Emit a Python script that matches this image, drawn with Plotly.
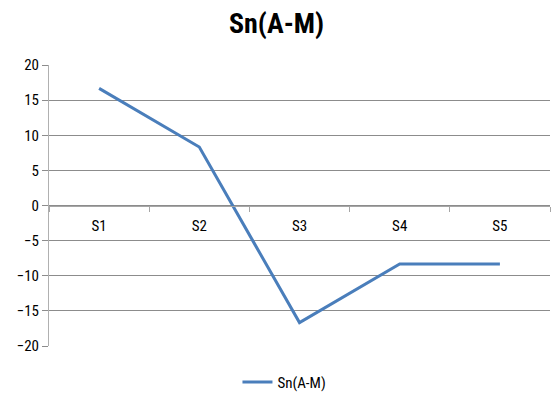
import plotly.graph_objects as go

categories = ["S1", "S2", "S3", "S4", "S5"]
values = [16.67, 8.33, -16.67, -8.33, -8.33]
series_name = "Sn(A-M)"
y_ticks = [-20, -15, -10, -5, 0, 5, 10, 15, 20]

FONT = "Liberation Sans Narrow, Arial Narrow, Roboto Condensed, Liberation Sans, sans-serif"

fig = go.Figure()
fig.add_trace(go.Scatter(
    x=categories, y=values, mode="lines", name=series_name,
    line=dict(color="#4a7ebb", width=3),
))

fig.update_layout(
    width=553, height=394,
    margin=dict(l=49, r=3, t=65, b=48),
    paper_bgcolor="white", plot_bgcolor="white",
    font=dict(family=FONT, size=15, color="#000000"),
    title=dict(text="<b>Sn(A-M)</b>", x=0.5, xanchor="center", y=0.94, yanchor="middle",
               font=dict(family=FONT, size=28, color="#000000")),
    showlegend=True,
    legend=dict(orientation="h", x=0.47, xanchor="center",
                yref="container", y=0.03, yanchor="middle",
                font=dict(family=FONT, size=15), itemwidth=30),
    xaxis=dict(
        type="category", range=[-0.5, 4.5],
        anchor="free", position=0.5, automargin=False,
        showline=True, linecolor="#a6a6a6", linewidth=1,
        ticks="outside", tickson="boundaries", ticklen=5, tickcolor="#a6a6a6",
        ticklabelstandoff=6,
        showgrid=False, zeroline=False,
        tickfont=dict(family=FONT, size=15),
    ),
    yaxis=dict(
        range=[-20, 20], tickvals=y_ticks, automargin=False,
        showline=True, linecolor="#b0b0b0", linewidth=1,
        ticks="outside", ticklen=6, tickcolor="#8c8c8c",
        showgrid=True, gridcolor="#8c8c8c", gridwidth=1,
        zeroline=False,
        tickfont=dict(family=FONT, size=15),
    ),
)

fig.write_html(
    "out.html",
    config={"displayModeBar": False},
    post_script="document.body.style.margin='0px';document.body.style.overflow='hidden';",
)
